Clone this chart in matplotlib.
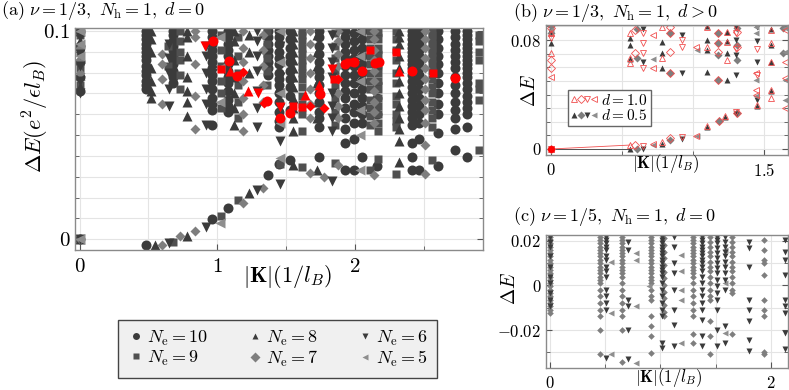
import matplotlib
matplotlib.use("Agg")
import matplotlib.pyplot as plt
from matplotlib.lines import Line2D
from matplotlib.legend_handler import HandlerTuple

plt.rcParams['mathtext.fontset'] = 'cm'
plt.rcParams['font.family'] = 'serif'
plt.rcParams['font.serif'] = ['cmr10', 'DejaVu Serif']
plt.rcParams['axes.unicode_minus'] = False

# ---------------- panel (a): nu = 1/3, d = 0 ----------------
# columns of |K| and the energies found at each one
a10_k = [0.0, 0.484, 0.68, 0.965, 1.078, 1.366, 1.445, 1.53, 1.737, 1.93, 1.99, 2.05, 2.16, 2.416, 2.464, 2.6, 2.73, 2.816]
a10_e = [[0.1, 0.093, 0.085, 0.078, 0.071, 0.0],
         [0.1, 0.098, 0.096, 0.094, 0.092, 0.09, 0.088, 0.086, 0.083, 0.081, 0.079, 0.076, 0.074, 0.072, -0.0027],
         [0.1, 0.098, 0.095, 0.093, 0.091, 0.088, 0.086, 0.084, 0.081, 0.078, 0.075],
         [0.1, 0.097, 0.094, 0.091, 0.088, 0.085, 0.082, 0.079, 0.076, 0.072, 0.068, 0.065, 0.062, 0.055, 0.0096],
         [0.1, 0.097, 0.094, 0.091, 0.088, 0.084, 0.081, 0.078, 0.075, 0.071, 0.067, 0.064, 0.061, 0.0149],
         [0.1, 0.097, 0.094, 0.091, 0.088, 0.085, 0.082, 0.079, 0.0309],
         [0.1, 0.097, 0.094, 0.09, 0.087, 0.084, 0.08, 0.077, 0.074, 0.07, 0.066, 0.061, 0.057, 0.054, 0.036],
         [0.1, 0.096, 0.092, 0.088, 0.085, 0.081, 0.077, 0.073, 0.069, 0.062, 0.0378],
         [0.1, 0.097, 0.093, 0.089, 0.085, 0.081, 0.078, 0.074, 0.07, 0.066, 0.061, 0.058, 0.054, 0.0394],
         [0.1, 0.097, 0.094, 0.09, 0.087, 0.083, 0.079, 0.075, 0.071, 0.068, 0.063, 0.058, 0.053, 0.046, 0.033],
         [0.099, 0.095, 0.091, 0.087, 0.083, 0.079, 0.075, 0.07, 0.065, 0.061, 0.056, 0.048, 0.033],
         [0.1, 0.096, 0.092, 0.088, 0.084, 0.08, 0.076, 0.072, 0.068, 0.064, 0.06, 0.056, 0.0394],
         [0.098, 0.09, 0.082, 0.075, 0.068, 0.06, 0.035],
         [0.1, 0.098, 0.096, 0.094, 0.092, 0.09, 0.088, 0.086, 0.084, 0.082, 0.079, 0.076, 0.073, 0.07, 0.067, 0.064, 0.061, 0.058, 0.055, 0.0462, 0.0394, 0.033],
         [0.1, 0.097, 0.094, 0.091, 0.088, 0.085, 0.082, 0.079, 0.076, 0.072, 0.068, 0.064, 0.06, 0.056, 0.048, 0.0333],
         [0.1, 0.096, 0.092, 0.088, 0.084, 0.08, 0.075, 0.07, 0.065, 0.06, 0.051, 0.0353],
         [0.1, 0.097, 0.094, 0.091, 0.088, 0.085, 0.082, 0.078, 0.074, 0.07, 0.066, 0.062, 0.058, 0.053, 0.043],
         [0.1, 0.098, 0.096, 0.094, 0.092, 0.09, 0.088, 0.086, 0.084, 0.082, 0.08, 0.078, 0.075, 0.072, 0.069, 0.066, 0.063, 0.06, 0.0539, 0.0394]]

a9_k = [0.0, 0.64, 0.682, 0.73, 1.027, 1.148, 1.36, 1.458, 1.616, 1.858, 2.11, 2.17, 2.295, 2.56, 2.9]
a9_e = [[0.098, 0.09, 0.082, 0.074, 0.0],
        [0.093, 0.083],
        [-0.0016],
        [0.1, 0.095, 0.09, 0.086, 0.079, 0.072],
        [0.098, 0.091, 0.083, 0.076, 0.07, 0.063, 0.0109],
        [0.097, 0.088, 0.08, 0.074, 0.066, 0.058, 0.0189],
        [0.1, 0.094, 0.087, 0.081, 0.074],
        [0.036],
        [0.1, 0.098, 0.095, 0.092, 0.089, 0.086, 0.083, 0.08, 0.077, 0.073, 0.069, 0.065, 0.06, 0.052, 0.0349],
        [0.099, 0.093, 0.087, 0.081, 0.074, 0.068, 0.061, 0.055, 0.0365],
        [0.1, 0.096, 0.092, 0.088, 0.084, 0.08, 0.076, 0.072, 0.067, 0.063, 0.059, 0.055, 0.033],
        [0.1, 0.096, 0.092, 0.088, 0.084, 0.08, 0.076, 0.072, 0.068, 0.064, 0.06, 0.056, 0.052, 0.0385],
        [0.1, 0.096, 0.091, 0.086, 0.08, 0.075, 0.069, 0.065, 0.06, 0.057, 0.054, 0.0314],
        [0.1, 0.098, 0.096, 0.094, 0.092, 0.09, 0.087, 0.084, 0.081, 0.077, 0.073, 0.07, 0.066, 0.062, 0.058, 0.054, 0.0378],
        [0.098, 0.095, 0.09, 0.086, 0.075, 0.072, 0.067, 0.043]]

a8_k = [0.0, 0.52, 0.55, 0.78, 1.12, 1.228, 1.548, 1.725, 2.32]
a8_e = [[0.1, 0.095, 0.087, 0.079, 0.073, 0.0],
        [0.1, 0.096, 0.09, 0.082, 0.076, 0.071, 0.068],
        [-0.003],
        [0.1, 0.097, 0.088, 0.078, 0.071, 0.066, 0.059, 0.0016],
        [0.1, 0.095, 0.086, 0.078, 0.07, 0.063, 0.055],
        [0.098, 0.09, 0.08, 0.0224],
        [0.1, 0.097, 0.094, 0.09, 0.086, 0.082, 0.078, 0.073, 0.068, 0.063, 0.058, 0.052, 0.0357],
        [0.098, 0.09, 0.083, 0.075, 0.066, 0.058, 0.0333],
        [0.1, 0.097, 0.094, 0.088, 0.082, 0.076, 0.07, 0.064, 0.058, 0.053, 0.047, 0.0373]]

a7_k = [0.0, 0.6, 0.731, 0.84, 1.19, 1.33, 1.676, 1.773, 1.875, 2.137, 2.51]
a7_e = [[0.099, 0.092, 0.086, 0.08, 0.0],
        [0.089, 0.084, 0.077, 0.065, -0.003],
        [0.0013],
        [0.1, 0.097, 0.084, 0.069, 0.053, 0.0037],
        [0.1, 0.092, 0.085, 0.076, 0.068, 0.06, 0.052, 0.0176],
        [0.098, 0.091, 0.083, 0.074, 0.066, 0.0245],
        [0.1, 0.094, 0.087, 0.08, 0.072, 0.065, 0.058, 0.0317],
        [0.0298],
        [0.1, 0.095, 0.089, 0.083, 0.077, 0.07, 0.064, 0.058, 0.0357],
        [0.1, 0.096, 0.091, 0.086, 0.081, 0.076, 0.071, 0.066, 0.061, 0.056, 0.031],
        [0.1, 0.096, 0.092, 0.087, 0.082, 0.077, 0.072, 0.067, 0.062, 0.056, 0.0454, 0.0314]]

a6_k = [0.0, 0.653, 0.92, 1.289, 1.453, 1.834]
a6_e = [[0.097, 0.089, 0.083, 0.076, 0.07, 0.0],
        [0.094, 0.087, 0.08, 0.072, 0.064, -0.002],
        [0.093, 0.088, 0.08, 0.072, 0.065, 0.055, 0.006],
        [0.1, 0.095, 0.088, 0.081, 0.071, 0.063, 0.054, 0.0237],
        [0.1, 0.093, 0.085, 0.078, 0.07, 0.063, 0.056, 0.047, 0.0265],
        [0.098, 0.092, 0.085, 0.078, 0.07, 0.064, 0.058, 0.052, 0.028]]

a5_k = [0.0, 1.02, 1.453, 2.04]
a5_e = [[0.1, 0.094, 0.088, 0.0],
        [0.097, 0.082, 0.066, 0.008],
        [0.1, 0.085, 0.07, 0.056, 0.039],
        [0.1, 0.088, 0.076, 0.062, 0.05, 0.033]]

# highlighted (red) states in panel (a)
red_o_k = [0.968, 1.082, 1.143, 1.361, 1.453, 1.531, 1.744, 1.931, 1.991, 2.052, 2.149, 2.173, 2.416, 2.73]
red_o_e = [0.095, 0.0858, 0.0782, 0.0662, 0.0582, 0.0606, 0.0697, 0.0843, 0.085, 0.0806, 0.0847, 0.0851, 0.0806, 0.0774]
red_s_k = [1.027, 1.55, 1.616, 1.851, 1.96, 2.113, 2.295, 2.566]
red_s_e = [0.0819, 0.0641, 0.0635, 0.0771, 0.085, 0.091, 0.0899, 0.0798]
red_u_k = [1.095, 1.223, 1.64, 1.737, 2.319]
red_u_e = [0.0806, 0.071, 0.0694, 0.0742, 0.0806]
red_d_k = [1.187, 1.337, 1.676, 1.773, 1.875]
red_d_e = [0.0801, 0.0654, 0.0641, 0.063, 0.0771]
red_v_k = [0.913, 1.296, 1.458, 1.834]
red_v_e = [0.0926, 0.0702, 0.0635, 0.0818]

# ---------------- panel (b): nu = 1/3, d > 0 ----------------
b8_k = [0.0, 0.557, 0.779, 1.095, 1.224, 1.236, 1.446, 1.545]
b8_e = [[0.0873, 0.0776, 0.0], [0.0812, 0.0764, 0.0658, 0.0], [0.0788, 0.0707, 0.0592, 0.0037],
        [0.0903, 0.08, 0.0727, 0.0568, 0.0165], [0.0238], [0.0861, 0.0795, 0.0702, 0.0506],
        [0.0315], [0.0878, 0.0764, 0.0641, 0.0428]]
b7_k = [0.0, 0.604, 0.838, 1.177, 1.184, 1.31, 1.634]
b7_e = [[0.09, 0.0849, 0.0], [0.0878, 0.0665, 0.0], [0.0849, 0.0555, 0.0066],
        [0.0854, 0.0776, 0.069, 0.0506], [0.0203], [0.0886, 0.0764, 0.0653, 0.0262], [0.0886, 0.0702]]
b6_k = [0.0, 0.65, 0.92, 1.301, 1.446]
b6_e = [[0.0861, 0.0], [0.0878, 0.0636, 0.0], [0.0837, 0.056, 0.0073],
        [0.0898, 0.08, 0.069, 0.0543, 0.026], [0.0898, 0.0795, 0.0641, 0.0359]]
b5_k = [0.0, 0.721, 1.025, 1.442, 1.645]
b5_e = [[0.0873, 0.0], [0.0658, 0.003], [0.0727, 0.0095],
        [0.0898, 0.0849, 0.0506, 0.0389], [0.0886, 0.0714, 0.0506, 0.0359]]

r8_k = [0.0, 0.557, 0.779, 1.095, 1.224, 1.236, 1.446, 1.545]
r8_e = [[0.0849, 0.0702, 0.0], [0.0849, 0.0665, 0.0629, 0.0029], [0.0898, 0.0665, 0.0051],
        [0.0898, 0.0751, 0.0168], [0.024], [0.0861, 0.0788, 0.0653], [0.032],
        [0.0873, 0.0776, 0.0641, 0.0372, 0.0435]]
r7_k = [0.0, 0.592, 0.838, 1.177, 1.184, 1.31]
r7_e = [[0.0886, 0.0653, 0.0592, 0.0], [0.0873, 0.0702, 0.003], [0.0898, 0.0849, 0.0714, 0.0555, 0.008],
        [0.0849, 0.0776, 0.0714, 0.0506], [0.0206], [0.0861, 0.0751, 0.0265]]
r6_k = [0.0, 0.65, 0.92, 1.301, 1.446]
r6_e = [[0.0812, 0.0], [0.0849, 0.0781, 0.0702, 0.0592, 0.0024], [0.08, 0.0751, 0.0088],
        [0.0898, 0.0849, 0.0732, 0.027], [0.0732, 0.0543]]
r5_k = [0.0, 0.721, 1.02, 1.442, 1.645]
r5_e = [[0.0531, 0.0], [0.0837, 0.0592, 0.0037], [0.0751, 0.0095],
        [0.0555, 0.0433, 0.0395], [0.0873, 0.0641, 0.0519, 0.0298]]

# ground-state links drawn as thin lines
b_link_k = [0.0, 0.557]
b_link_d05 = [0.0, 0.0]
b_link_d10 = [0.0, 0.0029]

# ---------------- panel (c): nu = 1/5, d = 0 ----------------
c6_k = [0.0, 0.51, 0.71, 1.01, 1.12, 1.375, 1.51, 1.587, 1.8, 2.13]
c6_e = [[0.0219, 0.0197, 0.0174, 0.013, 0.0085, 0.004, 0.001, -0.0034, -0.0064, -0.0094],
        [0.0219, 0.0204, 0.0189, 0.0174, 0.016, 0.013, 0.0115, 0.0085, 0.0063, 0.004, -0.0019, -0.0049, -0.0079, -0.0108, -0.0324],
        [0.0197, 0.016, -0.0064, -0.0094, -0.0198, -0.0332],
        [0.0219, 0.0204, 0.0189, 0.0174, 0.016, 0.0145, 0.013, 0.0115, 0.01, 0.0085, 0.007, 0.0055, 0.004, 0.001, -0.0019, -0.0049, -0.0079, -0.0108, -0.0138, -0.0258, -0.028],
        [0.0219, 0.0174, 0.01, 0.0055, -0.0019, -0.0108, -0.0176, -0.0272],
        [0.0219, 0.0204, 0.0189, 0.0174, 0.016, 0.0145, 0.013, 0.0115, 0.01, 0.0085, 0.0063, 0.004, 0.001, -0.0019, -0.0049, -0.0079, -0.0108, -0.0153, -0.0228, -0.0272],
        [0.0219, 0.0204, 0.0189, 0.0167, 0.0145, 0.0122, 0.01, 0.0077, 0.0055, 0.0025, -0.0004, -0.0034, -0.0064, -0.0108, -0.0198, -0.0272],
        [0.0219, 0.0197, 0.0174, 0.0152, 0.013, 0.0107, 0.0085, 0.0055, 0.0025, -0.0019, -0.0183, -0.0258],
        [0.0197, 0.0167, 0.0085, -0.0064, -0.0108, -0.0161, -0.0243, -0.0295],
        [0.0204, 0.0152, 0.0115, 0.0048, -0.0064, -0.0094, -0.0123, -0.0213, -0.0287]]

c7_k = [0.0, 0.453, 0.65, 0.915, 1.03, 1.3, 1.45, 1.647, 1.944]
c7_e = [[0.0219, 0.0204, 0.0189, 0.0174, 0.016, 0.0145, 0.013, 0.0115, 0.01, 0.0085, 0.007, 0.0055, 0.004, 0.0025, 0.001, -0.0004, -0.0019, -0.0034, -0.0049, -0.0064, -0.0079, -0.0094, -0.0108, -0.0123],
        [0.0219, 0.0204, 0.0189, 0.0174, 0.016, 0.0145, 0.013, 0.0115, 0.01, 0.0085, 0.007, 0.0055, 0.004, 0.0025, 0.001, -0.0019, -0.0049, -0.0079, -0.0108, -0.0138, -0.0198, -0.0309],
        [0.0219, 0.0204, 0.0189, 0.0174, 0.016, 0.0145, 0.013, 0.0115, 0.01, 0.0085, 0.007, 0.0055, 0.004, 0.001, -0.0019, -0.0049, -0.0079, -0.0108, -0.0138, -0.0198, -0.0342],
        [0.0219, 0.0204, 0.0189, 0.0174, 0.016, 0.0145, 0.013, 0.0115, 0.01, 0.0085, 0.007, 0.0055, 0.004, 0.0025, 0.001, -0.0019, -0.0049, -0.0064, -0.0138, -0.018, -0.0228, -0.0302],
        [0.0212, 0.0182, 0.0152, 0.0122, 0.0092, 0.0062, 0.0032, 0.0002, -0.0028, -0.0058, -0.0088, -0.0118, -0.0138],
        [0.0219, 0.0204, 0.0189, 0.0174, 0.016, 0.0145, 0.013, 0.0115, 0.01, 0.0085, 0.007, 0.0055, 0.004, 0.001, -0.0019, -0.0049, -0.0079, -0.0108, -0.0138, -0.022, -0.0258],
        [0.0219, 0.0197, 0.0174, 0.0152, 0.013, 0.0107, 0.0085, 0.0063, 0.004, 0.001, -0.0019, -0.0049, -0.0064, -0.0161, -0.0228, -0.0309],
        [0.0219, 0.0197, 0.0174, 0.0152, 0.013, 0.0107, 0.0085, 0.0063, 0.004, 0.001, -0.0019, -0.0034, -0.022],
        [0.0204, 0.016, 0.0115, 0.01, 0.0048, -0.0064, -0.0108, -0.0138, -0.0299, -0.0309]]

c5_k = [0.55, 0.78, 0.9, 1.19, 1.587]
c5_e = [[0.0107, -0.0123, -0.0309],
        [0.0145, 0.0115, -0.0094, -0.0347],
        [-0.0004],
        [0.0137, 0.0063, -0.0019, -0.0064, -0.0258],
        [0.016, 0.001, -0.0213]]


def flat(ks, es):
    xs, ys = [], []
    for k, col in zip(ks, es):
        for e in col:
            xs.append(k)
            ys.append(e)
    return xs, ys


def style_axes(ax, xminor, yminor, labsize):
    ax.set_xticks(xminor, minor=True)
    ax.set_yticks(yminor, minor=True)
    ax.grid(which='both', color='#e4e4e4', lw=0.8)
    ax.set_axisbelow(True)
    ax.tick_params(which='both', direction='in', length=3, color='#555555',
                   labelsize=labsize, top=False, right=True)
    ax.tick_params(which='major', length=4)
    for s in ax.spines.values():
        s.set_color('#8a8a8a')
        s.set_linewidth(1.0)


DARK = '#3b3b3b'
SQ = '#505050'
DIA = '#7e7e7e'
LEFT = '#8e8e8e'
RED = '#ff0000'
PINK = '#f05050'

fig = plt.figure(figsize=(7.89, 3.90), dpi=100)

# ---------- (a) ----------
ax = fig.add_axes([0.0951, 0.359, 0.517, 0.570])
series_a = [(a10_k, a10_e, 'o', DARK, 7.2, r'$N_{\mathrm{e}}=10$'),
            (a9_k, a9_e, 's', SQ, 6.3, r'$N_{\mathrm{e}}=9$'),
            (a8_k, a8_e, '^', DARK, 7.2, r'$N_{\mathrm{e}}=8$'),
            (a7_k, a7_e, 'D', DIA, 5.6, r'$N_{\mathrm{e}}=7$'),
            (a6_k, a6_e, 'v', DARK, 7.2, r'$N_{\mathrm{e}}=6$'),
            (a5_k, a5_e, '<', LEFT, 7.2, r'$N_{\mathrm{e}}=5$')]
handles = []
for ks, es, m, c, ms, lab in series_a:
    x, y = flat(ks, es)
    ax.plot(x, y, ls='none', marker=m, color=c, ms=ms, mec='none')
    handles.append(Line2D([], [], ls='none', marker=m, color=c, ms=5, mec='none', label=lab))

for ks, es, m, ms in [(red_o_k, red_o_e, 'o', 7.2), (red_s_k, red_s_e, 's', 6.3),
                      (red_u_k, red_u_e, '^', 7.2), (red_d_k, red_d_e, 'D', 5.6),
                      (red_v_k, red_v_e, 'v', 7.2)]:
    ax.plot(ks, es, ls='none', marker=m, color=RED, ms=ms, mec='none')

ax.set_xlim(-0.033, 2.93)
ax.set_ylim(-0.0052, 0.1016)
ax.set_xticks([0, 1, 2])
ax.set_xticklabels(['$0$', '$1$', '$2$'])
ax.set_yticks([0, 0.1])
ax.set_yticklabels(['$0$', '$0.1$'])
style_axes(ax, [0.5, 1.5, 2.5],
           [0.01, 0.02, 0.03, 0.04, 0.05, 0.06, 0.07, 0.08, 0.09], 15)
ax.tick_params(axis='x', pad=6)
ax.set_xlabel(r'$|\mathbf{K}|(1/l_B)$', fontsize=16)
ax.xaxis.set_label_coords(0.52, -0.06)
ax.set_ylabel(r'$\Delta E(e^2/\epsilon l_B)$', fontsize=16)
ax.yaxis.set_label_coords(-0.058, 0.6)

fig.legend(handles=handles, ncol=3, loc='center', bbox_to_anchor=(0.352, 0.106), fontsize=13,
           frameon=True, fancybox=False, facecolor='#f0f0f0', edgecolor='#444444',
           framealpha=1, handletextpad=0.1, columnspacing=2.1, labelspacing=0.05,
           handlelength=1.0, borderpad=0.5)

fig.text(0.001, 0.972, r'$\mathrm{(a)}\ \nu=1/3,\ N_{\mathrm{h}}=1,\ d=0$', fontsize=13, va='center', ha='left')

# ---------- (b) ----------
bx = fig.add_axes([0.692, 0.6026, 0.3063, 0.333])
bx.plot(b_link_k, b_link_d05, color=DARK, lw=0.6)
bx.plot(b_link_k, b_link_d10, color=PINK, lw=0.6)
bsz = 4.6
filled = [(b8_k, b8_e, '^', DARK), (b7_k, b7_e, 'D', DIA), (b6_k, b6_e, 'v', DARK), (b5_k, b5_e, '<', LEFT)]
opened = [(r8_k, r8_e, '^'), (r7_k, r7_e, 'D'), (r6_k, r6_e, 'v'), (r5_k, r5_e, '<')]
hf, ho = [], []
for ks, es, m, c in filled:
    x, y = flat(ks, es)
    s = bsz * 0.8 if m == 'D' else bsz
    bx.plot(x, y, ls='none', marker=m, color=c, ms=s, mec='none')
    hf.append(Line2D([], [], ls='none', marker=m, color=c, ms=s, mec='none'))
for ks, es, m in opened:
    x, y = flat(ks, es)
    s = bsz * 0.8 if m == 'D' else bsz
    bx.plot(x, y, ls='none', marker=m, mfc='none', mec=PINK, ms=s, mew=0.6)
    ho.append(Line2D([], [], ls='none', marker=m, mfc='none', mec=PINK, ms=s, mew=0.6))
bx.plot([0.0], [0.0], ls='none', marker='o', color=RED, ms=4)

bx.set_xlim(-0.033, 1.664)
bx.set_ylim(-0.0044, 0.091)
bx.set_xticks([0, 1.5])
bx.set_xticklabels(['$0$', '$1.5$'])
bx.set_yticks([0, 0.08])
bx.set_yticklabels(['$0$', '$0.08$'])
style_axes(bx, [0.5, 1.0], [0.01, 0.02, 0.03, 0.04, 0.05, 0.06, 0.07, 0.09], 12)
bx.tick_params(axis='x', pad=5)
bx.text(0.81, -0.0105, r'$|\mathbf{K}|(1/l_B)$', fontsize=12, ha='center', va='center')
bx.set_ylabel(r'$\Delta E$', fontsize=14)
bx.yaxis.set_label_coords(-0.03, 0.5)
bx.legend([tuple(ho), tuple(hf)], [r'$d=1.0$', r'$d=0.5$'],
          handler_map={tuple: HandlerTuple(ndivide=None, pad=0.0)},
          loc='lower left', bbox_to_anchor=(0.09, 0.22), fontsize=11,
          frameon=True, fancybox=False, edgecolor='#666666', facecolor='white', framealpha=1,
          handlelength=1.7, handletextpad=0.3, borderpad=0.2, labelspacing=0.05, borderaxespad=0)
fig.text(0.650, 0.968, r'$\mathrm{(b)}\ \nu=1/3,\ N_{\mathrm{h}}=1,\ d>0$', fontsize=13, va='center', ha='left')

# ---------- (c) ----------
cx = fig.add_axes([0.692, 0.0572, 0.3063, 0.340])
csz = 4.2
for ks, es, m, c in [(c7_k, c7_e, 'D', DIA), (c5_k, c5_e, '<', LEFT), (c6_k, c6_e, 'v', DARK)]:
    x, y = flat(ks, es)
    s = csz * 0.8 if m == 'D' else csz
    cx.plot(x, y, ls='none', marker=m, color=c, ms=s, mec='none')
cx.set_xlim(-0.039, 2.155)
cx.set_ylim(-0.0369, 0.0226)
cx.set_xticks([0, 2])
cx.set_xticklabels(['$0$', '$2$'])
cx.set_yticks([-0.02, 0, 0.02])
cx.set_yticklabels(['$-0.02$', '$0$', '$0.02$'])
style_axes(cx, [0.5, 1.0, 1.5], [-0.03, -0.01, 0.01], 12)
cx.tick_params(axis='x', pad=5)
cx.text(1.07, -0.0415, r'$|\mathbf{K}|(1/l_B)$', fontsize=12, ha='center', va='center')
cx.set_ylabel(r'$\Delta E$', fontsize=14)
cx.yaxis.set_label_coords(-0.11, 0.6)
fig.text(0.650, 0.446, r'$\mathrm{(c)}\ \nu=1/5,\ N_{\mathrm{h}}=1,\ d=0$', fontsize=13, va='center', ha='left')

fig.savefig('out.png', dpi=100)
